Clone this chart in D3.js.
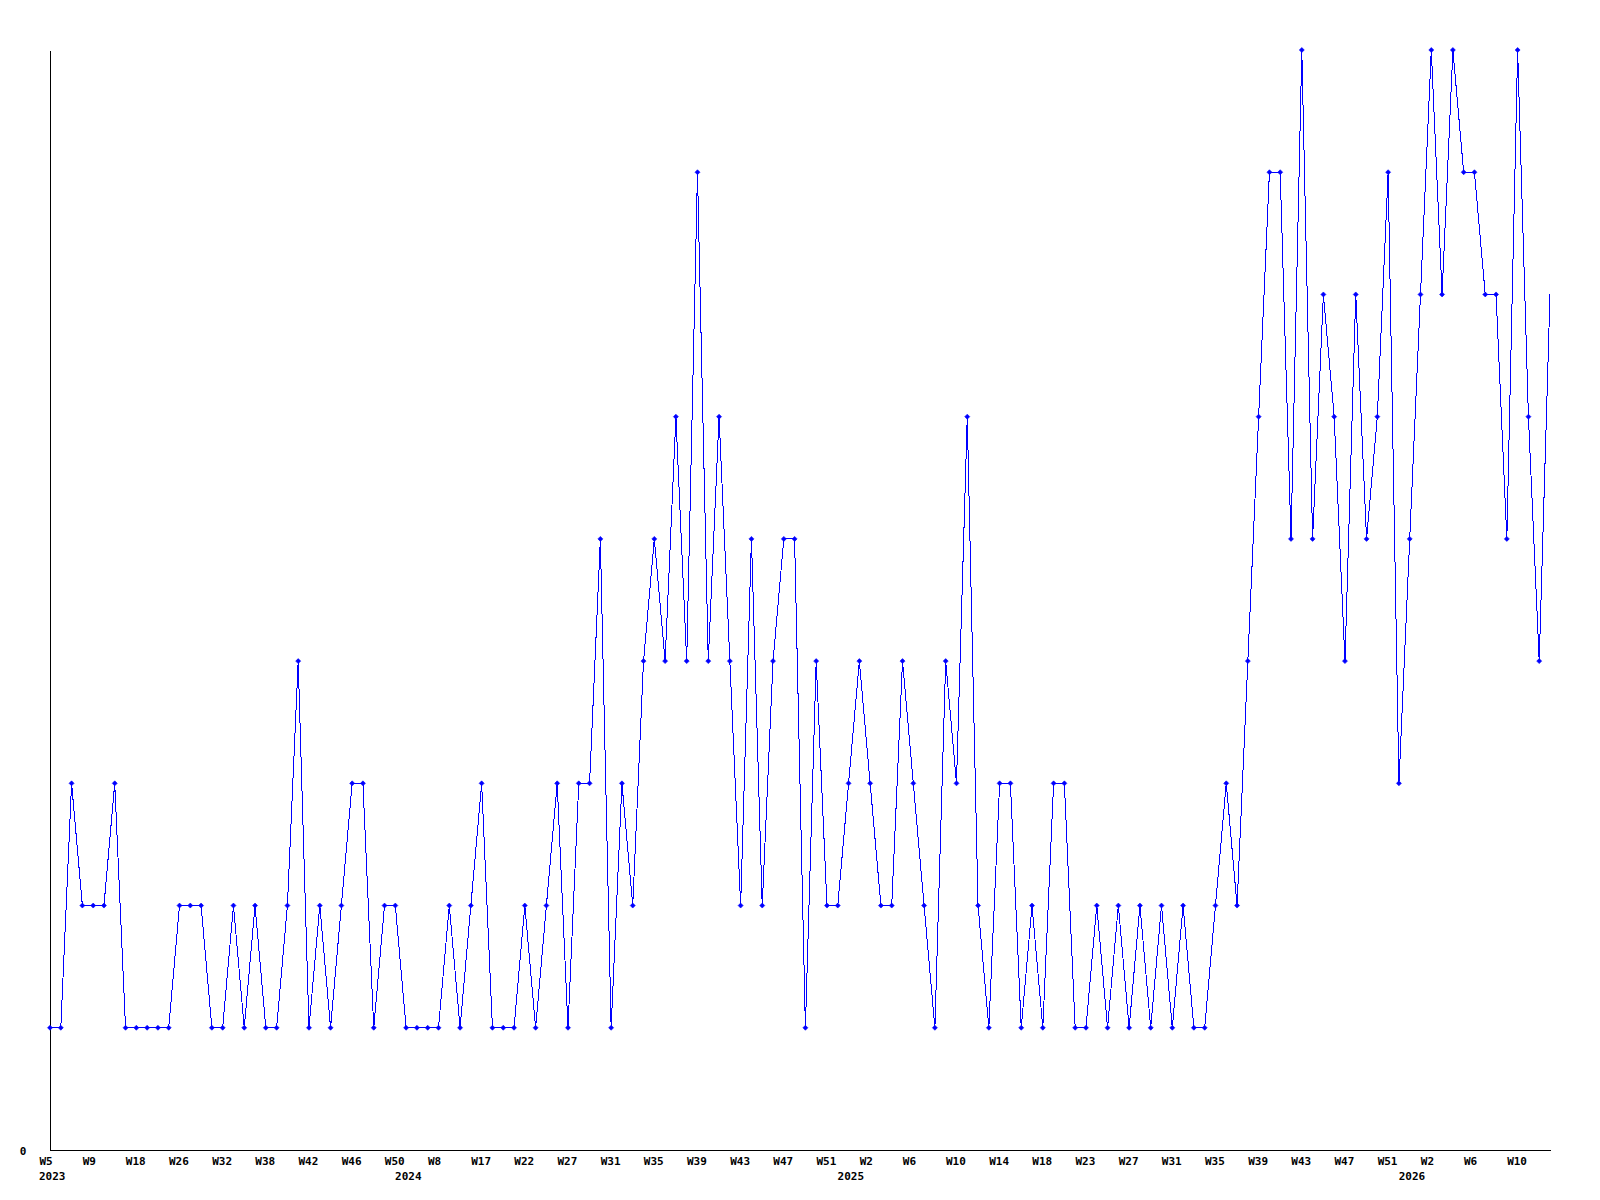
<!DOCTYPE html>
<html>
<head>
<meta charset="utf-8">
<script src="https://cdn.jsdelivr.net/npm/d3@7"></script>
<style>
  html, body { margin: 0; padding: 0; background: #ffffff; }
  svg { display: block; }
  text { font-family: "DejaVu Sans Mono", "Liberation Mono", monospace; font-weight: bold; font-size: 11px; fill: #000; }
</style>
</head>
<body>
<script>
// ---- data (one value per weekly point) ----
const values = [
  1,1,3,2,2,2,3,1,1,1,
  1,1,2,2,2,1,1,2,1,2,
  1,1,2,4,1,2,1,2,3,3,
  1,2,2,1,1,1,1,2,1,2,
  3,1,1,1,2,1,2,3,1,3,
  3,5,1,3,2,4,5,4,6,4,
  8,4,6,4,2,5,2,4,5,5,
  1,4,2,2,3,4,3,2,2,4,
  3,2,1,4,3,6,2,1,3,3,
  1,2,1,3,3,1,1,2,1,2,
  1,2,1,2,1,2,1,1,2,3,
  2,4,6,8,8,5,9,5,7,6,
  4,7,5,6,8,3,5,7,9,7,
  9,8,8,7,7,5,9,6,4,7
];
// week label shown on every 4th point
const weekTicks = ["W5","W9","W18","W26","W32","W38","W42","W46","W50","W8","W17","W22",
  "W27","W31","W35","W39","W43","W47","W51","W2","W6","W10","W14","W18","W23","W27",
  "W31","W35","W39","W43","W47","W51","W2","W6","W10"];
const tickEvery = 4;
// year labels and the point at which each year begins
const yearLabels = ["2023","2024","2025","2026"];
const yearStartPoint = [0, 33, 74, 126];
const yTicks = [0];
const yMax = 9;

// ---- layout ----
const W = 1600, H = 1200;
const mLeft = 50, mRight = 1550, mTop = 50, mBottom = 1150;
const blue = "#0000ff";

const svg = d3.select("body").append("svg").attr("width", W).attr("height", H);

const x = d3.scalePoint().domain(d3.range(values.length)).range([mLeft, mRight]);
const y = d3.scaleLinear().domain([0, yMax]).range([mBottom, mTop]);

// x axis
const xAxis = d3.axisBottom(x)
  .tickValues(d3.range(0, values.length, tickEvery))
  .tickFormat(i => weekTicks[i / tickEvery])
  .tickSize(0).tickPadding(0);
const gx = svg.append("g").attr("transform", `translate(0,${mBottom})`).call(xAxis);
gx.select(".domain").attr("stroke", "#000").attr("shape-rendering", "crispEdges");
gx.selectAll(".tick text")
  .attr("text-anchor", "start")
  .attr("x", -11)
  .attr("y", 0)
  .attr("dy", "15px")
  .style("font-size", "11px");

// year labels
svg.append("g").selectAll("text.year")
  .data(yearLabels)
  .join("text")
  .attr("class", "year")
  .attr("x", (d, i) => x(yearStartPoint[i]) - 11)
  .attr("y", mBottom + 30)
  .text(d => d);

// y axis
const yAxis = d3.axisLeft(y).tickValues(yTicks).tickSize(0).tickPadding(0).tickFormat(d3.format("d"));
const gy = svg.append("g").attr("transform", `translate(${mLeft},0)`).call(yAxis);
gy.select(".domain").attr("stroke", "#000").attr("shape-rendering", "crispEdges");
gy.selectAll(".tick text")
  .attr("text-anchor", "middle")
  .attr("x", -27)
  .attr("dy", "4px")
  .style("font-size", "11px");

// line
const line = d3.line().x((d, i) => x(i)).y(d => y(d));
svg.append("path")
  .datum(values)
  .attr("fill", "none")
  .attr("stroke", blue)
  .attr("stroke-width", 1)
  .attr("shape-rendering", "crispEdges")
  .attr("d", line);

// markers (small diamonds); the final point at the right edge has none
const r = 2.5;
svg.append("g").selectAll("path.mk")
  .data(values.slice(0, values.length - 1))
  .join("path")
  .attr("class", "mk")
  .attr("fill", blue)
  .attr("stroke", blue)
  .attr("stroke-width", 0.6)
  .attr("d", (d, i) => {
    const cx = x(i), cy = y(d);
    return `M${cx - r},${cy}L${cx},${cy - r}L${cx + r},${cy}L${cx},${cy + r}Z`;
  });
</script>
</body>
</html>
